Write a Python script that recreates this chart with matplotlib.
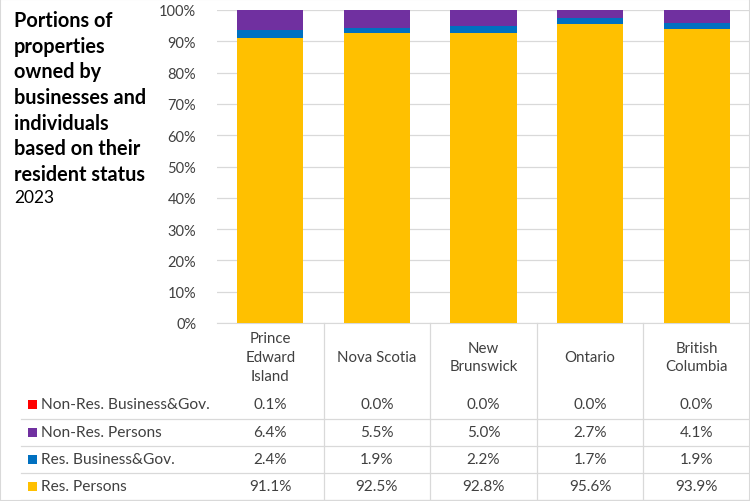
import matplotlib
matplotlib.use("Agg")
import matplotlib.pyplot as plt
import matplotlib.transforms as mtransforms
from matplotlib.lines import Line2D
from matplotlib.patches import Rectangle
import numpy as np

plt.rcParams['font.family'] = ['Lato', 'DejaVu Sans']

# data
provinces = ["Prince\nEdward\nIsland", "Nova Scotia", "New\nBrunswick", "Ontario", "British\nColumbia"]
res_persons = [91.1, 92.5, 92.8, 95.6, 93.9]
res_business = [2.4, 1.9, 2.2, 1.7, 1.9]
nonres_persons = [6.4, 5.5, 5.0, 2.7, 4.1]
nonres_business = [0.1, 0.0, 0.0, 0.0, 0.0]

series_names = ["Res. Persons", "Res. Business&Gov.", "Non-Res. Persons", "Non-Res. Business&Gov."]
series_vals = [res_persons, res_business, nonres_persons, nonres_business]
colors = ["#FFC000", "#0070C0", "#7030A0", "#FF0000"]

W, H = 750, 502
fig = plt.figure(figsize=(W / 100, H / 100), dpi=100)
ax = fig.add_axes([217 / W, 1 - 324 / H, 533 / W, 313 / H])

x = np.arange(len(provinces))
bottom = np.zeros(len(provinces))
for vals, c in zip(series_vals, colors):
    ax.bar(x, vals, width=0.62, bottom=bottom, color=c, zorder=3)
    bottom += np.array(vals)

ax.set_xlim(-0.5, len(provinces) - 0.5)
ax.set_ylim(0, 100)
ax.set_yticks(np.arange(0, 101, 10))
ax.set_yticklabels([f"{v}%" for v in range(0, 101, 10)])
ax.tick_params(axis='y', length=0, pad=15, labelsize=10.5, labelcolor="#404040")
ax.set_xticks([])
ax.grid(axis='y', color="#d9d9d9", linewidth=0.9, zorder=0)
for s in ["top", "right", "left"]:
    ax.spines[s].set_visible(False)
ax.spines["bottom"].set_color("#d9d9d9")

# title
fig.text(14 / W, 1 - 11 / H,
         "Portions of\nproperties\nowned by\nbusinesses and\nindividuals\nbased on their\nresident status",
         fontsize=14.3, fontweight='bold', va='top', ha='left', linespacing=1.355, color="#000000")
fig.text(14 / W, 1 - 198 / H, "2023", fontsize=12.5, va='center', ha='left', color="#000000")

# data table under the chart
tr = mtransforms.blended_transform_factory(ax.transData, fig.transFigure)
line_c = "#d9d9d9"
def fy(py):
    return 1 - py / H

# vertical column lines
for b in np.arange(0.5, len(provinces) + 0.5, 1.0):
    fig.add_artist(Line2D([b, b], [fy(324), fy(501)], transform=tr, color=line_c, linewidth=0.9))
# horizontal row lines
for py in [420, 447, 474, 501]:
    fig.add_artist(Line2D([21 / W, 1.0], [fy(py), fy(py)], transform=fig.transFigure,
                          color=line_c, linewidth=0.9))

for i, p in enumerate(provinces):
    fig.text(i, fy(358), p, transform=tr, ha='center', va='center', fontsize=10.8,
             linespacing=1.42, color="#404040")

row_y = [405, 433, 460, 487]
for k, (name, vals, c) in enumerate(zip(series_names[::-1], series_vals[::-1], colors[::-1])):
    py = row_y[k]
    fig.add_artist(Rectangle((28 / W, fy(py + 4.5)), 9 / W, 9 / H, transform=fig.transFigure,
                             color=c, linewidth=0))
    fig.text(41 / W, fy(py), name, ha='left', va='center', fontsize=11.2, color="#404040")
    for i, v in enumerate(vals):
        fig.text(i, fy(py), f"{v:.1f}%", transform=tr, ha='center', va='center',
                 fontsize=11, color="#404040")

fig.add_artist(Rectangle((0, 0), 1, 1, transform=fig.transFigure, fill=False,
                         edgecolor="#d9d9d9", linewidth=1.5))

fig.savefig("out.png", dpi=100)
